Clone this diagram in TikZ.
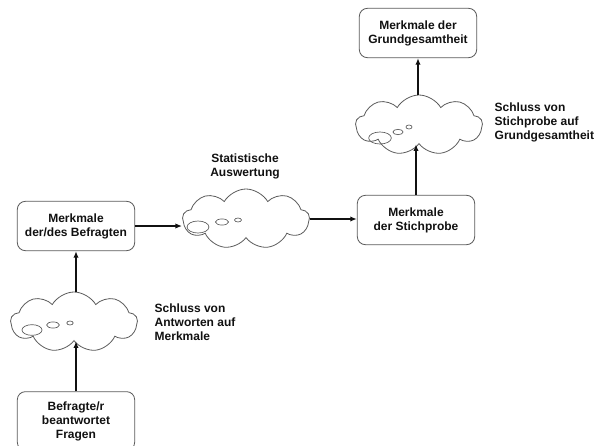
\documentclass[tikz,border=0pt]{standalone}
\usepackage{fontspec}
\setmainfont{Liberation Sans}
\usetikzlibrary{arrows.meta,shapes.symbols}
\definecolor{cedge}{HTML}{5A5A5A}
\definecolor{cink}{HTML}{111111}
\tikzset{
  >={Latex[length=5pt,width=4pt]},
  txt/.style={font=\bfseries\fontsize{9}{10.5}\selectfont,text=cink},
  box/.style={txt,draw=cedge,line width=0.6pt,rounded corners=6pt,align=center,
    inner sep=0pt,minimum width=88pt,minimum height=37pt},
  cld/.style={draw=cedge,line width=0.6pt,shape=cloud,cloud puffs=9,cloud puff arc=120,
    aspect=2.2,inner sep=0pt,minimum width=95pt,minimum height=45pt},
  bub/.style={draw=cedge,line width=0.5pt},
  lbl/.style={txt,align=left,anchor=west},
  arr/.style={->,line width=1.3pt,cink}
}

\begin{document}
\begin{tikzpicture}[x=0.75pt,y=-0.75pt]
\useasboundingbox (0,0) rectangle (596,446);
\clip (0,0) rectangle (596,446);

% ============ right column ============
\node[box] (gg) at (418,33) {Merkmale der\\Grundgesamtheit};
\node[cld] (c3) at (419,125) {};
\node[lbl] (t3) at (490,122) {Schluss von\\Stichprobe auf\\Grundgesamtheit};
\node[box] (sp) at (416,220) {Merkmale\\der Stichprobe};

% ============ middle ============
\node[cld] (c2) at (246,219) {};
\node[txt,align=center] (t2) at (245,166) {Statistische\\Auswertung};

% ============ left column ============
\node[box] (bf) at (76,226) {Merkmale\\der/des Befragten};
\node[cld] (c1) at (74,322) {};
\node[lbl] (t1) at (150,322) {Schluss von\\Antworten auf\\Merkmale};
\node[box,minimum height=44pt] (an) at (76,421) {Befragte/r\\beantwortet\\Fragen};

% small bubbles inside the clouds
\draw[bub] ([shift={(-42,8)}]c1.center) ellipse [x radius=7.5pt,y radius=4pt];
\draw[bub] ([shift={(-21,3)}]c1.center) ellipse [x radius=4.8pt,y radius=2.3pt];
\draw[bub] ([shift={(-4,1)}]c1.center) ellipse [x radius=2.4pt,y radius=1.5pt];
\draw[bub] ([shift={(-48,8)}]c2.center) ellipse [x radius=8.2pt,y radius=4.5pt];
\draw[bub] ([shift={(-24,3)}]c2.center) ellipse [x radius=4.9pt,y radius=2.3pt];
\draw[bub] ([shift={(-8,1)}]c2.center) ellipse [x radius=2.6pt,y radius=1.5pt];
\draw[bub] ([shift={(-39,13)}]c3.center) ellipse [x radius=8.5pt,y radius=4.5pt];
\draw[bub] ([shift={(-21,7)}]c3.center) ellipse [x radius=3.8pt,y radius=2pt];
\draw[bub] ([shift={(-10,2)}]c3.center) ellipse [x radius=2.3pt,y radius=1.5pt];

% connectors
\draw[arr] (an) -- (an |- c1.south);
\draw[arr] (c1.north -| bf) -- (bf);
\draw[arr] (bf) -- (bf -| c2.west);
\draw[arr] (c2.east) -- (c2.east -| sp.west);
\draw[arr] (sp) -- (sp |- c3.south);
\draw[arr] (c3.north -| gg) -- (gg);

\end{tikzpicture}
\end{document}
